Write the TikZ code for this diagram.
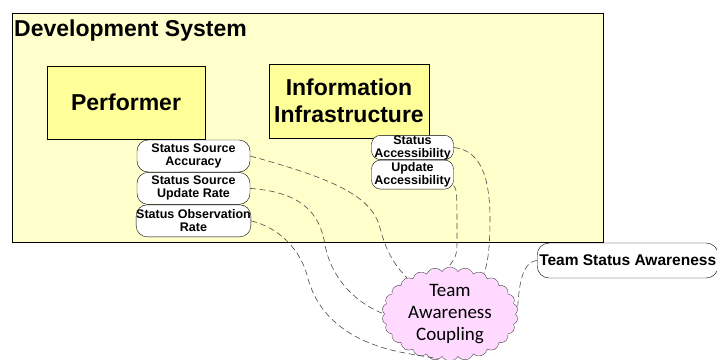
\documentclass[tikz,border=0pt]{standalone}
\usepackage{fontspec}
\setmainfont{Liberation Sans}
\newfontfamily\cloudfont{Carlito}
\usetikzlibrary{positioning,shapes.symbols}

\definecolor{sysfill}{HTML}{FFFFCC}
\definecolor{blockfill}{HTML}{FFFF99}
\definecolor{cloudfill}{HTML}{FFD9FF}
\definecolor{linkgray}{HTML}{4A4A4A}

\begin{document}
\begin{tikzpicture}[x=1pt,y=-1pt,
  block/.style={rectangle,draw,fill=blockfill,align=center,font=\bfseries\fontsize{23}{27}\selectfont},
  pill/.style={rectangle,draw,fill=white,rounded corners=11pt,align=center,inner sep=0pt,
    minimum width=113pt,minimum height=32pt,font=\bfseries\fontsize{12.5}{13}\selectfont},
  smallpill/.style={pill,rounded corners=9pt,minimum width=82pt,minimum height=21pt},
  link/.style={draw=linkgray,dash pattern=on 6pt off 3.5pt,line width=0.6pt}]
\useasboundingbox (0,0) rectangle (717,359);

\node [rectangle,draw,fill=sysfill,anchor=north west,minimum width=591pt,minimum height=229pt] (devsys) at (12,13) {};
\node [anchor=base west,inner sep=0pt,font=\bfseries\fontsize{23}{27}\selectfont] (devtitle) at (14,36) {Development System};

\node [block,minimum width=158pt,minimum height=73pt] (performer) at (126,102.5) {Performer};
\node [block,minimum width=160pt,minimum height=74pt] (infra) at (349,101) {Information\\Infrastructure};

\node [pill] (accuracy) at (193.5,156) {Status Source\\Accuracy};
\node [pill,below=0pt of accuracy] (updrate) {Status Source\\Update Rate};
\node [pill,below=0pt of updrate] (obsrate) {Status Observation\\Rate};

\node [smallpill] (statacc) at (412.5,147.5) {Status\\Accessibility};
\node [smallpill,minimum height=29pt,below=0pt of statacc] (updacc) {Update\\Accessibility};

\node [pill,anchor=west,minimum width=181pt,minimum height=35pt,rounded corners=12pt,
  font=\bfseries\fontsize{15.5}{17}\selectfont] (teamstatus) at (537,260.5) {Team Status Awareness};

\node [cloud,draw=black!70,fill=cloudfill,cloud puffs=26,cloud puff arc=120,cloud ignores aspect,
  minimum width=136pt,minimum height=94pt,inner sep=0pt,align=center,
  font=\cloudfont\fontsize{19}{22}\selectfont] (coupling) at (450,314) {Team\\Awareness\\Coupling};

\draw [link] (accuracy.east) .. controls (330,178) and (372,195) .. (380,228) .. controls (386,250) and (392,262) .. (coupling.140);
\draw [link] (updrate.east) .. controls (300,192) and (320,212) .. (325,245) .. controls (332,282) and (360,305) .. (coupling.180);
\draw [link] (obsrate.east) .. controls (280,228) and (300,250) .. (307,275) .. controls (316,312) and (345,342) .. (405,353) .. controls (425,357) and (440,358) .. (coupling.255);
\draw [link] (statacc.east) .. controls (476,150) and (489,168) .. (490,215) .. controls (490,240) and (489,260) .. (coupling.50);
\draw [link] (updacc.-15) .. controls (457,190) .. (457,245) .. controls (457,258) and (452,262) .. (coupling.92);
\draw [link] (teamstatus.west) .. controls (522,262) and (519,285) .. (coupling.5);
\end{tikzpicture}
\end{document}
